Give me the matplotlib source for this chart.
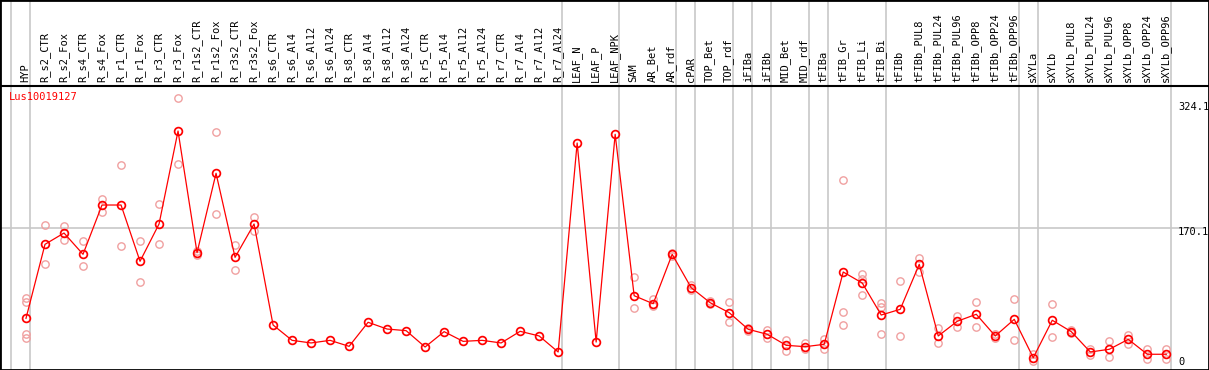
import matplotlib
matplotlib.use("Agg")
import matplotlib.pyplot as plt
import numpy as np

labels = ["HYP", "R_s2_CTR", "R_s2_Fox", "R_s4_CTR", "R_s4_Fox", "R_r1_CTR", "R_r1_Fox",
          "R_r3_CTR", "R_r3_Fox", "R_r1s2_CTR", "R_r1s2_Fox", "R_r3s2_CTR", "R_r3s2_Fox",
          "R_s6_CTR", "R_s6_Al4", "R_s6_Al12", "R_s6_Al24", "R_s8_CTR", "R_s8_Al4",
          "R_s8_Al12", "R_s8_Al24", "R_r5_CTR", "R_r5_Al4", "R_r5_Al12", "R_r5_Al24",
          "R_r7_CTR", "R_r7_Al4", "R_r7_Al12", "R_r7_Al24", "LEAF_N", "LEAF_P", "LEAF_NPK",
          "SAM", "AR_Bet", "AR_rdf", "cPAR", "TOP_Bet", "TOP_rdf", "iFIBa", "iFIBb",
          "MID_Bet", "MID_rdf", "tFIBa", "tFIB_Gr", "tFIB_Li", "tFIB_Bi", "tFIBb",
          "tFIBb_PUL8", "tFIBb_PUL24", "tFIBb_PUL96", "tFIBb_OPP8", "tFIBb_OPP24",
          "tFIBb_OPP96", "sXYLa", "sXYLb", "sXYLb_PUL8", "sXYLb_PUL24", "sXYLb_PUL96",
          "sXYLb_OPP8", "sXYLb_OPP24", "sXYLb_OPP96"]

means = [63.5, 151.2, 164.6, 139.4, 197.8, 197.8, 131.1, 175.3, 285.5, 141.3, 235.4,
         135.8, 175.3, 55.6, 37.4, 34.3, 37.4, 30.3, 58.8, 50.8, 48.9, 29.5, 47.7, 36.2,
         37.4, 34.3, 48.1, 42.6, 23.6, 271.3, 35.4, 281.6, 90.3, 80.8, 139.4, 99.8, 82.0,
         70.2, 50.5, 44.6, 31.5, 29.9, 32.7, 118.4, 105.4, 67.4, 74.2, 127.5, 42.6, 60.0,
         68.3, 42.6, 62.3, 16.8, 61.2, 47.7, 23.6, 26.8, 38.6, 20.9, 20.9]

replicates = [
    [87.6, 82.8, 44.6, 39.8], [173.8, 127.5], [172.9, 156.7], [155.2, 125.1],
    [204.9, 189.9], [244.9, 148.9], [155.2, 106.2], [199.0, 151.6], [324.1, 246.0],
    [143.0, 138.5], [284.0, 186.8], [150.4, 120.8], [183.2, 166.6],
    [], [], [], [], [], [], [], [], [], [], [], [], [], [], [], [], [], [], [],
    [112.1, 75.4], [86.0, 78.0], [141.5, 137.5], [102.5, 97.0], [83.5, 80.5],
    [82.5, 58.8], [52.0, 49.0], [50.0, 40.5], [37.8, 24.8], [34.6, 26.8],
    [38.6, 27.5], [227.1, 70.6, 55.2], [115.7, 109.7, 90.8], [81.7, 76.9, 44.6],
    [107.7, 42.6], [134.6, 118.8], [51.7, 33.9], [66.3, 53.6], [82.5, 52.9],
    [44.5, 40.5], [86.0, 37.4], [21.6, 12.9], [80.1, 41.8], [49.5, 46.0],
    [27.5, 19.7], [36.2, 18.0], [44.1, 33.4], [26.8, 14.9], [26.8, 14.9]]

group_ends = [-1, 0, 28, 31, 34, 35, 37, 38, 39, 41, 42, 45, 52, 53, 60]
ytick_values = [324.1, 170.1, 0]
ytick_labels = ["324.1", "170.1", "0"]
gene = "Lus10019127"

W, H = 1209, 370
fig = plt.figure(figsize=(W / 100, H / 100), dpi=100)
ax = fig.add_axes([0, 0, 1, 1])

# pixel mapping: x_px = 26 + 19.005*i ; y_px(from top) = 371.9 - 0.8437*v
ax.set_xlim(-26 / 19.005, (W - 26) / 19.005)
ax.set_ylim((371.9 - H) / 0.8437, 371.9 / 0.8437)
ax.set_xticks([])
ax.set_yticks([])
for s in ax.spines.values():
    s.set_linewidth(2.0)
    s.set_color("black")

x = np.arange(len(labels))
gray = "#c8c8c8"
for g in group_ends:
    ax.axvline(g + 0.225, color=gray, lw=1.2, zorder=1)
ax.axhline(170.1, xmin=0, xmax=1205 / W, color=gray, lw=1.2, zorder=1)

# separator between label area and plot
sep_v = (371.9 - 85.5) / 0.8437
ax.axhline(sep_v, color="black", lw=1.5, zorder=2)

# replicates
rx, ry = [], []
for i, reps in enumerate(replicates):
    for r in reps:
        rx.append(i)
        ry.append(r)
ax.plot(rx, ry, linestyle="none", marker="o", markersize=5.3, markerfacecolor="none",
        markeredgecolor="#f0a0a0", markeredgewidth=1.0, zorder=3)

ax.plot(x, means, color="red", lw=0.9, zorder=4)
ax.plot(x, means, linestyle="none", marker="o", markersize=5.6, markerfacecolor="none",
        markeredgecolor="red", markeredgewidth=1.25, zorder=5)

mono = "DejaVu Sans Mono"
trans = ax.get_xaxis_transform()
label_y = (H - 82.5) / H
for i, lab in enumerate(labels):
    ax.text(i - 0.03, label_y, lab, rotation=90, ha="center", va="bottom",
            fontsize=7.5, family=mono, transform=trans, color="black")

ax.text(9 / W, 1 - 97 / H, gene, color="red", fontsize=7.5, family=mono,
        transform=ax.transAxes, ha="left", va="center")

tick_px = [107.3, 232.3, 362.0]
for v, lab, ypx in zip(ytick_values, ytick_labels, tick_px):
    ax.text(1178 / W, 1 - ypx / H, lab, fontsize=7.5, family=mono,
            transform=ax.transAxes, ha="left", va="center", color="black")

fig.savefig("out.png", dpi=100)
